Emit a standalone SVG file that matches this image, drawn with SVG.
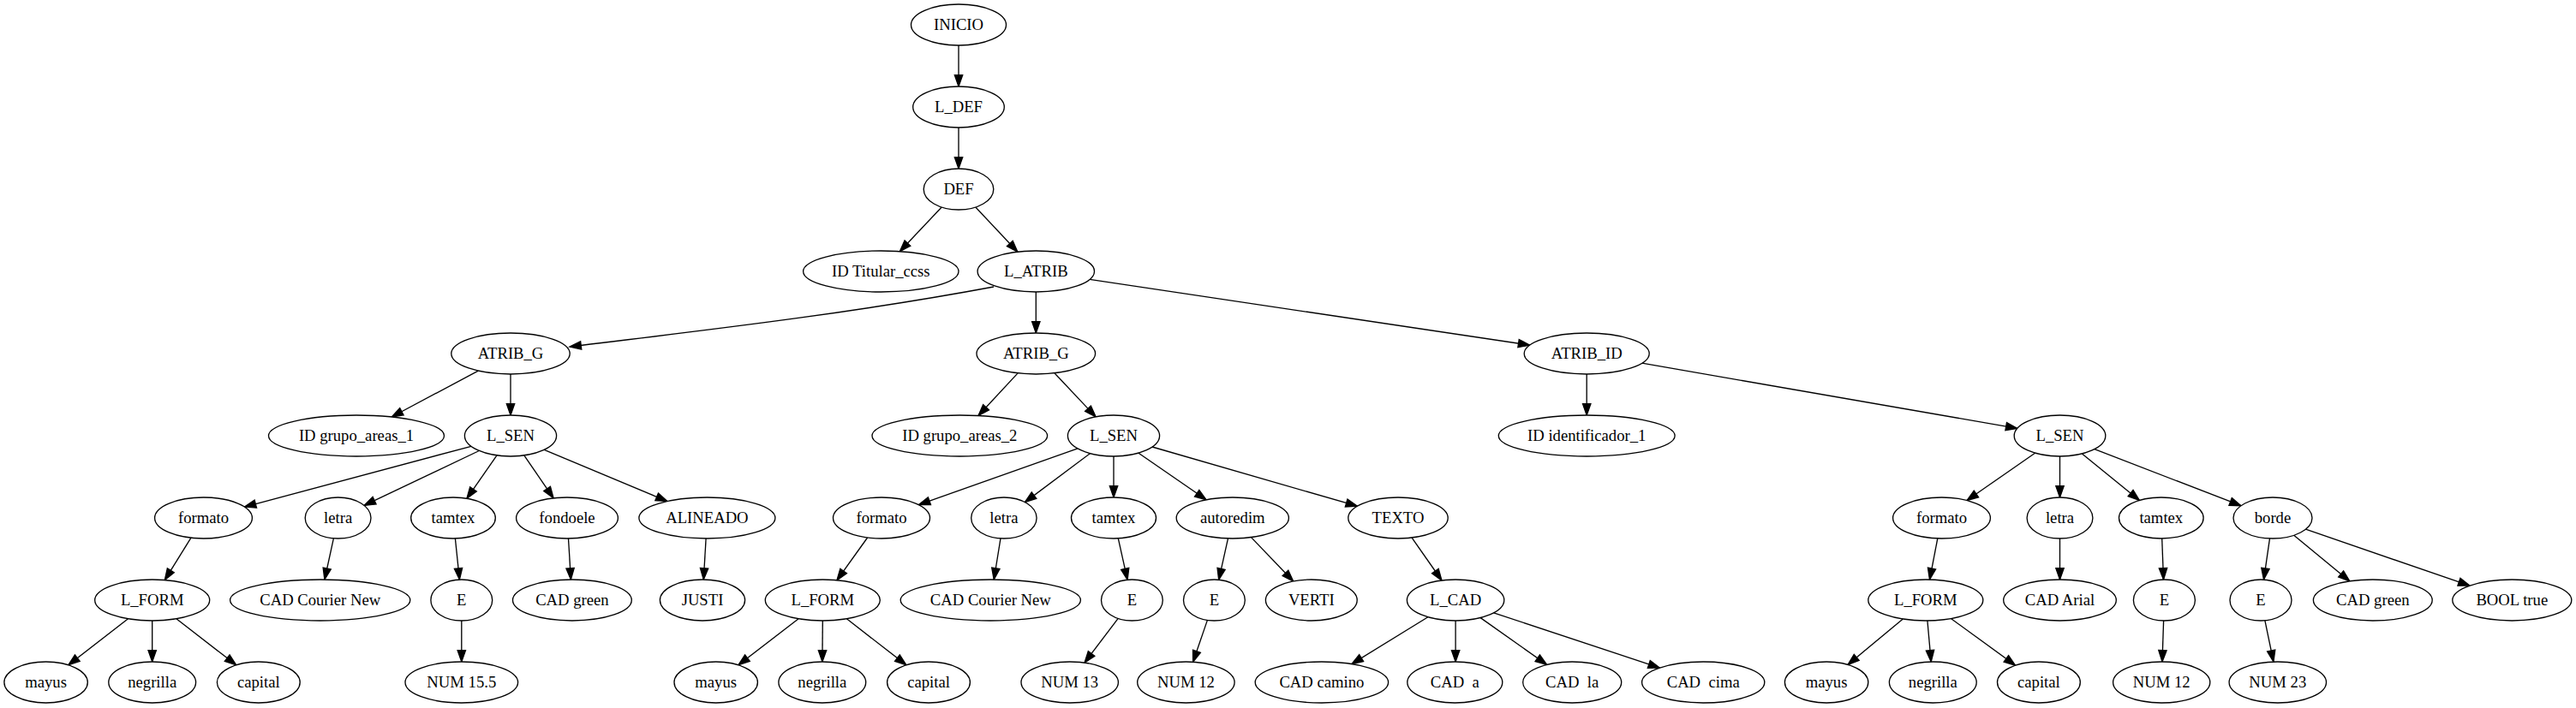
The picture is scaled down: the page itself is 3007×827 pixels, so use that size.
<svg xmlns="http://www.w3.org/2000/svg" width="3007" height="827" viewBox="0 0 3007 827">
<style>
.n ellipse{fill:#fff;stroke:#000;stroke-width:1.33}
.n text{font-family:"Liberation Serif","Times New Roman",serif;font-size:18.67px;text-anchor:middle;fill:#000}
#edges path{fill:none;stroke:#000;stroke-width:1.33;marker-end:url(#ah)}
</style>
<defs>
<marker id="ah" markerUnits="userSpaceOnUse" markerWidth="16" markerHeight="12" viewBox="0 -6 16 12" refX="13.3" refY="0" orient="auto" overflow="visible">
<path d="M0,-4.67L13.3,0L0,4.67z" fill="#000" stroke="#000" stroke-width="1.33"/>
</marker>
</defs>
<rect width="3007" height="827" fill="#fff"/>
<g id="edges">
<path d="M1119,53L1119,101"/>
<path d="M1119,149L1119,197"/>
<path d="M1099.2,242L1050.3,293.7"/>
<path d="M1138.8,242L1187.9,294.2"/>
<path d="M1160,335C995,365.9 830,385 665,405"/>
<path d="M1209.3,341L1209.3,389"/>
<path d="M1272.1,326.4L1785.7,403.1"/>
<path d="M558.3,433.1L457.2,487"/>
<path d="M596,437L596,485"/>
<path d="M550,521.3L285.5,592.1"/>
<path d="M559.3,526.5L425.1,590.4"/>
<path d="M580,531.9L544.9,582.3"/>
<path d="M611.8,531.9L646.1,581.9"/>
<path d="M635.2,525.4L778.9,585.5"/>
<path d="M223,628.2L192.3,677.6"/>
<path d="M149.5,722.8L79.8,776.8"/>
<path d="M177.7,725L177.7,773"/>
<path d="M205.9,722.8L275.7,776.8"/>
<path d="M389.4,628.8L378.9,677"/>
<path d="M531.4,629L536.4,677.1"/>
<path d="M538.8,725L538.8,773"/>
<path d="M663.5,629L666.4,677"/>
<path d="M824.1,629L821.3,677"/>
<path d="M1188.1,435.9L1142,485.5"/>
<path d="M1230.9,435.8L1279.1,486.9"/>
<path d="M1258,523.9L1072.4,589.6"/>
<path d="M1272.5,529.6L1196.4,586.6"/>
<path d="M1300,533L1300,581"/>
<path d="M1329.1,529.2L1408.1,583.8"/>
<path d="M1345,522L1584.4,591.2"/>
<path d="M1012.6,628L976.9,677.8"/>
<path d="M932.1,722.8L861.9,776.8"/>
<path d="M960.3,725L959.9,773"/>
<path d="M988.4,722.8L1057.9,776.8"/>
<path d="M1168,628.9L1160.2,677"/>
<path d="M1305.3,628.9L1316.1,677.3"/>
<path d="M1305.2,722.4L1266,774.1"/>
<path d="M1433.5,628.9L1422.7,677.3"/>
<path d="M1460.5,627.6L1509.7,679"/>
<path d="M1409.4,724.4L1392.6,773.3"/>
<path d="M1648.1,628.1L1683,678"/>
<path d="M1666.9,720.8L1577.8,775.6"/>
<path d="M1699.1,725L1699.1,773"/>
<path d="M1728.2,721.6L1805.6,776.4"/>
<path d="M1743.7,715.8L1937.4,780.1"/>
<path d="M1852.2,437L1852.2,485"/>
<path d="M1916.7,424.2L2354.8,500.4"/>
<path d="M2375.5,529.2L2296,584.5"/>
<path d="M2404.5,533L2404.5,581"/>
<path d="M2430.4,530L2497.4,584.4"/>
<path d="M2445,524.6L2616,590.7"/>
<path d="M2261.8,628.9L2252.5,677.1"/>
<path d="M2221.3,723L2157,776.4"/>
<path d="M2249.9,725L2254.2,773"/>
<path d="M2277.4,722.5L2352.6,777.2"/>
<path d="M2404.5,629L2404.5,677"/>
<path d="M2523.7,629L2525.5,677"/>
<path d="M2525.6,725L2524,773"/>
<path d="M2649.5,628.9L2642.5,677.1"/>
<path d="M2677.7,625.3L2742.9,678.9"/>
<path d="M2691.4,618.2L2883,684.1"/>
<path d="M2643.9,724.8L2653.9,773.1"/>
</g>
<g id="n_inicio" class="n"><ellipse cx="1119" cy="29" rx="55.5" ry="24"/><text x="1119" y="34.6">INICIO</text></g>
<g id="n_ldef" class="n"><ellipse cx="1119" cy="125" rx="53.3" ry="24"/><text x="1119" y="130.6">L_DEF</text></g>
<g id="n_def" class="n"><ellipse cx="1119" cy="221" rx="40.8" ry="24"/><text x="1119" y="226.6">DEF</text></g>
<g id="n_idtit" class="n"><ellipse cx="1028.3" cy="317" rx="90.7" ry="24"/><text x="1028.3" y="322.6">ID Titular_ccss</text></g>
<g id="n_latrib" class="n"><ellipse cx="1209.3" cy="317" rx="68.2" ry="24"/><text x="1209.3" y="322.6">L_ATRIB</text></g>
<g id="n_atribg1" class="n"><ellipse cx="596" cy="413" rx="69.2" ry="24"/><text x="596" y="418.6">ATRIB_G</text></g>
<g id="n_atribg2" class="n"><ellipse cx="1209.3" cy="413" rx="69.3" ry="24"/><text x="1209.3" y="418.6">ATRIB_G</text></g>
<g id="n_atribid" class="n"><ellipse cx="1852.2" cy="413" rx="73" ry="24"/><text x="1852.2" y="418.6">ATRIB_ID</text></g>
<g id="n_idga1" class="n"><ellipse cx="416" cy="509" rx="102.5" ry="24"/><text x="416" y="514.6">ID grupo_areas_1</text></g>
<g id="n_lsen1" class="n"><ellipse cx="596" cy="509" rx="53.6" ry="24"/><text x="596" y="514.6">L_SEN</text></g>
<g id="n_idga2" class="n"><ellipse cx="1120.3" cy="509" rx="102.3" ry="24"/><text x="1120.3" y="514.6">ID grupo_areas_2</text></g>
<g id="n_lsen2" class="n"><ellipse cx="1300" cy="509" rx="53.6" ry="24"/><text x="1300" y="514.6">L_SEN</text></g>
<g id="n_idid1" class="n"><ellipse cx="1852.2" cy="509" rx="102.9" ry="24"/><text x="1852.2" y="514.6">ID identificador_1</text></g>
<g id="n_lsen3" class="n"><ellipse cx="2404.5" cy="509" rx="53.3" ry="24"/><text x="2404.5" y="514.6">L_SEN</text></g>
<g id="n_formato1" class="n"><ellipse cx="237.5" cy="605" rx="56.9" ry="24"/><text x="237.5" y="610.6">formato</text></g>
<g id="n_letra1" class="n"><ellipse cx="394.6" cy="605" rx="38.4" ry="24"/><text x="394.6" y="610.6">letra</text></g>
<g id="n_tamtex1" class="n"><ellipse cx="529" cy="605" rx="49.3" ry="24"/><text x="529" y="610.6">tamtex</text></g>
<g id="n_fondoele" class="n"><ellipse cx="662" cy="605" rx="59.4" ry="24"/><text x="662" y="610.6">fondoele</text></g>
<g id="n_alineado" class="n"><ellipse cx="825.4" cy="605" rx="79.5" ry="24"/><text x="825.4" y="610.6">ALINEADO</text></g>
<g id="n_formato2" class="n"><ellipse cx="1029" cy="605" rx="56.5" ry="24"/><text x="1029" y="610.6">formato</text></g>
<g id="n_letra2" class="n"><ellipse cx="1171.9" cy="605" rx="38.2" ry="24"/><text x="1171.9" y="610.6">letra</text></g>
<g id="n_tamtex2" class="n"><ellipse cx="1300" cy="605" rx="49.5" ry="24"/><text x="1300" y="610.6">tamtex</text></g>
<g id="n_autoredim" class="n"><ellipse cx="1438.8" cy="605" rx="65.6" ry="24"/><text x="1438.8" y="610.6">autoredim</text></g>
<g id="n_texto" class="n"><ellipse cx="1632" cy="605" rx="58.2" ry="24"/><text x="1632" y="610.6">TEXTO</text></g>
<g id="n_formato3" class="n"><ellipse cx="2266.5" cy="605" rx="56.9" ry="24"/><text x="2266.5" y="610.6">formato</text></g>
<g id="n_letra3" class="n"><ellipse cx="2404.5" cy="605" rx="38.4" ry="24"/><text x="2404.5" y="610.6">letra</text></g>
<g id="n_tamtex3" class="n"><ellipse cx="2522.8" cy="605" rx="49.3" ry="24"/><text x="2522.8" y="610.6">tamtex</text></g>
<g id="n_borde" class="n"><ellipse cx="2653" cy="605" rx="46" ry="24"/><text x="2653" y="610.6">borde</text></g>
<g id="n_lform1" class="n"><ellipse cx="177.7" cy="701" rx="67" ry="24"/><text x="177.7" y="706.6">L_FORM</text></g>
<g id="n_cadcn1" class="n"><ellipse cx="373.7" cy="701" rx="105.1" ry="24"/><text x="373.7" y="706.6">CAD Courier New</text></g>
<g id="n_e1" class="n"><ellipse cx="538.8" cy="701" rx="35.9" ry="24"/><text x="538.8" y="706.6">E</text></g>
<g id="n_cadgreen1" class="n"><ellipse cx="667.9" cy="701" rx="69.4" ry="24"/><text x="667.9" y="706.6">CAD green</text></g>
<g id="n_justi" class="n"><ellipse cx="820" cy="701" rx="49.6" ry="24"/><text x="820" y="706.6">JUSTI</text></g>
<g id="n_lform2" class="n"><ellipse cx="960.3" cy="701" rx="67" ry="24"/><text x="960.3" y="706.6">L_FORM</text></g>
<g id="n_cadcn2" class="n"><ellipse cx="1156.3" cy="701" rx="105.1" ry="24"/><text x="1156.3" y="706.6">CAD Courier New</text></g>
<g id="n_e2" class="n"><ellipse cx="1321.4" cy="701" rx="35.9" ry="24"/><text x="1321.4" y="706.6">E</text></g>
<g id="n_e3" class="n"><ellipse cx="1417.4" cy="701" rx="35.9" ry="24"/><text x="1417.4" y="706.6">E</text></g>
<g id="n_verti" class="n"><ellipse cx="1530.8" cy="701" rx="53.4" ry="24"/><text x="1530.8" y="706.6">VERTI</text></g>
<g id="n_lcad" class="n"><ellipse cx="1699.1" cy="701" rx="56.7" ry="24"/><text x="1699.1" y="706.6">L_CAD</text></g>
<g id="n_lform3" class="n"><ellipse cx="2247.8" cy="701" rx="67" ry="24"/><text x="2247.8" y="706.6">L_FORM</text></g>
<g id="n_cadarial" class="n"><ellipse cx="2404.5" cy="701" rx="65.8" ry="24"/><text x="2404.5" y="706.6">CAD Arial</text></g>
<g id="n_e4" class="n"><ellipse cx="2526.4" cy="701" rx="36" ry="24"/><text x="2526.4" y="706.6">E</text></g>
<g id="n_e5" class="n"><ellipse cx="2639" cy="701" rx="36" ry="24"/><text x="2639" y="706.6">E</text></g>
<g id="n_cadgreen2" class="n"><ellipse cx="2769.8" cy="701" rx="69.4" ry="24"/><text x="2769.8" y="706.6">CAD green</text></g>
<g id="n_booltrue" class="n"><ellipse cx="2932.3" cy="701" rx="69.5" ry="24"/><text x="2932.3" y="706.6">BOOL true</text></g>
<g id="n_mayus1" class="n"><ellipse cx="53.6" cy="797" rx="48.7" ry="24"/><text x="53.6" y="802.6">mayus</text></g>
<g id="n_negrilla1" class="n"><ellipse cx="177.7" cy="797" rx="50.9" ry="24"/><text x="177.7" y="802.6">negrilla</text></g>
<g id="n_capital1" class="n"><ellipse cx="301.8" cy="797" rx="48.4" ry="24"/><text x="301.8" y="802.6">capital</text></g>
<g id="n_num155" class="n"><ellipse cx="538.8" cy="797" rx="65.8" ry="24"/><text x="538.8" y="802.6">NUM 15.5</text></g>
<g id="n_mayus2" class="n"><ellipse cx="835.7" cy="797" rx="48.7" ry="24"/><text x="835.7" y="802.6">mayus</text></g>
<g id="n_negrilla2" class="n"><ellipse cx="959.8" cy="797" rx="50.9" ry="24"/><text x="959.8" y="802.6">negrilla</text></g>
<g id="n_capital2" class="n"><ellipse cx="1084" cy="797" rx="48.4" ry="24"/><text x="1084" y="802.6">capital</text></g>
<g id="n_num13" class="n"><ellipse cx="1248.7" cy="797" rx="56.7" ry="24"/><text x="1248.7" y="802.6">NUM 13</text></g>
<g id="n_num12a" class="n"><ellipse cx="1384.4" cy="797" rx="56.7" ry="24"/><text x="1384.4" y="802.6">NUM 12</text></g>
<g id="n_cadcamino" class="n"><ellipse cx="1542.9" cy="797" rx="77.7" ry="24"/><text x="1542.9" y="802.6">CAD camino</text></g>
<g id="n_cada" class="n"><ellipse cx="1698.3" cy="797" rx="55.5" ry="24"/><text x="1698.3" y="802.6" xml:space="preserve">CAD  a</text></g>
<g id="n_cadla" class="n"><ellipse cx="1835.2" cy="797" rx="57.5" ry="24"/><text x="1835.2" y="802.6" xml:space="preserve">CAD  la</text></g>
<g id="n_cadcima" class="n"><ellipse cx="1988.2" cy="797" rx="71.6" ry="24"/><text x="1988.2" y="802.6" xml:space="preserve">CAD  cima</text></g>
<g id="n_mayus3" class="n"><ellipse cx="2132.1" cy="797" rx="48.7" ry="24"/><text x="2132.1" y="802.6">mayus</text></g>
<g id="n_negrilla3" class="n"><ellipse cx="2256.3" cy="797" rx="50.9" ry="24"/><text x="2256.3" y="802.6">negrilla</text></g>
<g id="n_capital3" class="n"><ellipse cx="2379.9" cy="797" rx="48.4" ry="24"/><text x="2379.9" y="802.6">capital</text></g>
<g id="n_num12b" class="n"><ellipse cx="2523.2" cy="797" rx="56.6" ry="24"/><text x="2523.2" y="802.6">NUM 12</text></g>
<g id="n_num23" class="n"><ellipse cx="2658.8" cy="797" rx="56.7" ry="24"/><text x="2658.8" y="802.6">NUM 23</text></g>
</svg>
